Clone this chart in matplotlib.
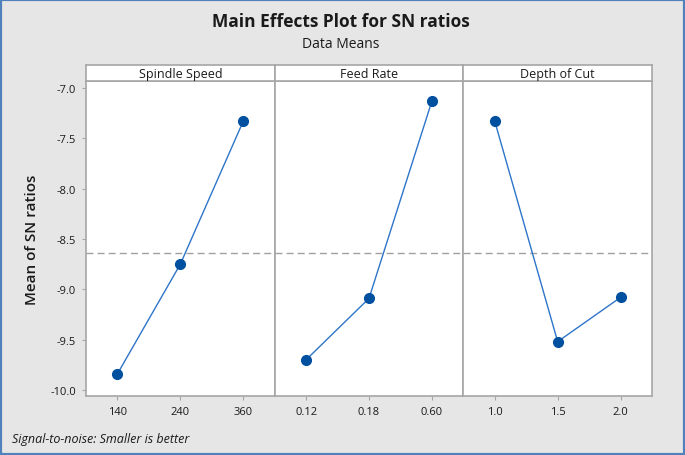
import matplotlib
matplotlib.use("Agg")
import matplotlib.pyplot as plt
from matplotlib.patches import Rectangle

factors = ["Spindle Speed", "Feed Rate", "Depth of Cut"]
levels = [["140", "240", "360"], ["0.12", "0.18", "0.60"], ["1.0", "1.5", "2.0"]]
spindle_sn = [-9.84, -8.75, -7.33]
feed_sn = [-9.70, -9.09, -7.13]
depth_sn = [-7.33, -9.52, -9.08]
series = [spindle_sn, feed_sn, depth_sn]
overall_mean = sum(spindle_sn) / 3.0
yticks = [-7.0, -7.5, -8.0, -8.5, -9.0, -9.5, -10.0]

W, H = 685, 456
fig = plt.figure(figsize=(W / 100, H / 100), dpi=100)
fig.patch.set_facecolor("#e6e6e6")
plt.rcParams['font.family'] = ['Open Sans', 'DejaVu Sans']

# blue frame
fig.patches.append(Rectangle((0, 0), 1, 1, transform=fig.transFigure, fill=False,
                             edgecolor="#4f81bd", linewidth=3, zorder=10))

x0, x1 = 86, 652
ytop, ybot, strip_top = 82, 397, 66
pw = (x1 - x0) / 3
spine_col = "#a6a6a6"
txt = "#1a1a1a"

for i in range(3):
    left = (x0 + i * pw) / W
    ax = fig.add_axes([left, 1 - ybot / H, pw / W, (ybot - ytop) / H])
    ax.set_facecolor("white")
    ax.axhline(overall_mean, color="#a0a0a0", linestyle=(0, (5, 3)), linewidth=1.0, zorder=1)
    xs = list(range(3))
    ax.plot(xs, series[i], color="#2e75c9", linewidth=1.0, zorder=2)
    ax.plot(xs, series[i], linestyle="none", marker="o", markersize=7,
            color="#0050a0", zorder=3)
    ax.set_xlim(-0.5, 2.5)
    ax.set_ylim(-10.06, -6.93)
    ax.set_xticks(xs)
    ax.set_xticklabels(levels[i], fontsize=8, color=txt, fontweight="medium")
    ax.set_yticks(yticks)
    for s in ax.spines.values():
        s.set_color(spine_col)
        s.set_linewidth(1.2)
    ax.tick_params(axis="both", direction="out", length=3, width=0.8, color=spine_col,
                   labelsize=8, pad=4)
    if i == 0:
        ax.set_yticklabels([f"{v:.1f}" for v in yticks], fontsize=8, color=txt,
                           fontweight="medium")
        ax.set_ylabel("Mean of SN ratios", fontsize=11, color=txt, labelpad=8,
                      fontweight="semibold")
    else:
        ax.tick_params(axis="y", left=False, labelleft=False)
    # strip
    sax = fig.add_axes([left, 1 - ytop / H, pw / W, (ytop - strip_top) / H])
    sax.set_facecolor("white")
    sax.set_xticks([])
    sax.set_yticks([])
    for s in sax.spines.values():
        s.set_color(spine_col)
        s.set_linewidth(1.2)
    sax.text(0.5, 0.45, factors[i], ha="center", va="center", fontsize=9,
             color=txt, fontweight="medium", transform=sax.transAxes)

fig.text(0.497, 1 - 22 / H, "Main Effects Plot for SN ratios", ha="center", va="center",
         fontsize=12.5, fontweight="bold", color=txt)
fig.text(0.497, 1 - 45 / H, "Data Means", ha="center", va="center",
         fontsize=10, color=txt, fontweight="medium")
fig.text(12 / W, 1 - 440 / H, "Signal-to-noise: Smaller is better", ha="left", va="center",
         fontsize=9, style="italic", color=txt)

fig.savefig("out.png", dpi=100, facecolor=fig.get_facecolor())
